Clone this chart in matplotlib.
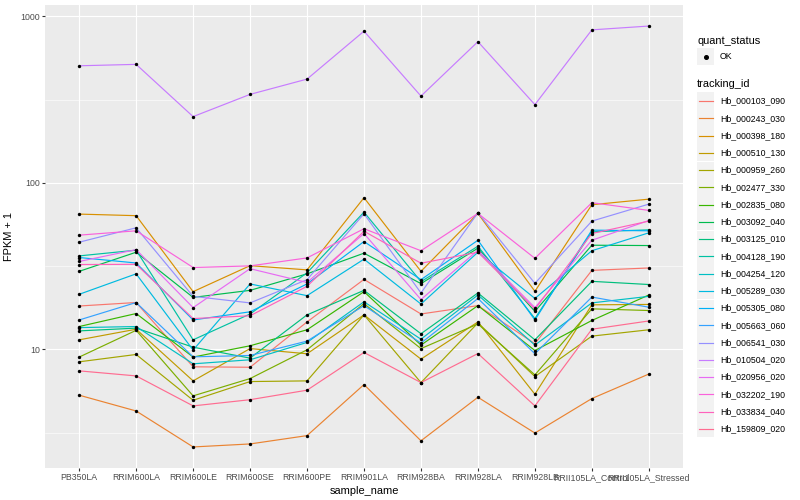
import matplotlib
matplotlib.use("Agg")
import matplotlib.pyplot as plt
import numpy as np
from matplotlib.lines import Line2D
from matplotlib.patches import Rectangle

plt.rcParams['font.family'] = ['Liberation Sans', 'DejaVu Sans']

samples = ["PB350LA", "RRIM600LA", "RRIM600LE", "RRIM600SE", "RRIM600PE",
           "RRIM901LA", "RRIM928BA", "RRIM928LA", "RRIM928LB",
           "RRII105LA_Control", "RRII105LA_Stressed"]

tracking_ids = ["Hb_000103_090", "Hb_000243_030", "Hb_000398_180", "Hb_000510_130",
                "Hb_000959_260", "Hb_002477_330", "Hb_002835_080", "Hb_003092_040",
                "Hb_003125_010", "Hb_004128_190", "Hb_004254_120", "Hb_005289_030",
                "Hb_005305_080", "Hb_005663_060", "Hb_006541_030", "Hb_010504_020",
                "Hb_020956_020", "Hb_032202_190", "Hb_033834_040", "Hb_159809_020"]

quant_status = ["OK"]

# FPKM + 1 values, one list per tracking id (in sample order)
hb_000103_090 = [18.2, 19.1, 7.85, 7.8, 14.6, 26.3, 16.3, 18.3, 10.8, 29.8, 30.8]
hb_000243_030 = [5.3, 4.26, 2.59, 2.70, 3.03, 6.14, 2.82, 5.15, 3.14, 5.06, 7.1]
hb_000398_180 = [64.9, 63.5, 22.2, 31.8, 30.0, 81.4, 29.4, 65.5, 22.3, 73.9, 79.8]
hb_000510_130 = [11.4, 13.2, 6.46, 10.1, 9.4, 16.1, 8.73, 14.6, 5.37, 18.5, 18.6]
hb_000959_260 = [8.41, 9.31, 4.94, 6.40, 6.46, 16.1, 6.31, 14.4, 6.86, 12.0, 13.1]
hb_002477_330 = [8.98, 13.0, 5.25, 6.67, 9.93, 18.8, 10.1, 14.2, 7.02, 17.5, 17.1]
hb_002835_080 = [13.7, 16.4, 8.98, 10.5, 13.1, 22.2, 10.6, 18.3, 9.83, 14.9, 21.2]
hb_003092_040 = [29.4, 38.3, 20.5, 22.6, 28.4, 37.8, 24.8, 40.5, 16.9, 42.2, 42.0]
hb_003125_010 = [12.9, 13.4, 10.3, 8.85, 16.1, 22.6, 12.4, 21.8, 11.4, 25.6, 24.5]
hb_004128_190 = [36.4, 39.4, 11.4, 16.3, 28.8, 66.7, 25.5, 41.6, 15.3, 50.8, 52.2]
hb_004254_120 = [13.5, 13.7, 8.18, 8.65, 11.0, 19.3, 11.5, 21.2, 10.6, 19.0, 20.8]
hb_005289_030 = [21.4, 28.4, 9.89, 24.7, 21.0, 34.8, 18.7, 38.3, 20.2, 39.1, 50.1]
hb_005305_080 = [35.6, 33.0, 15.0, 16.8, 24.7, 44.4, 26.2, 45.2, 15.0, 52.0, 51.5]
hb_005663_060 = [15.0, 19.1, 9.01, 9.18, 11.2, 18.3, 10.9, 20.2, 9.4, 20.6, 17.9]
hb_006541_030 = [44.0, 53.7, 20.8, 19.0, 26.2, 65.2, 21.8, 66.1, 24.9, 58.9, 74.5]
hb_010504_020 = [505, 515, 250, 340, 420, 815, 332, 705, 295, 830, 875]
hb_020956_020 = [33.7, 39.7, 17.8, 30.5, 25.2, 49.6, 19.9, 39.4, 17.8, 45.2, 59.4]
hb_032202_190 = [48.5, 51.5, 31.0, 31.7, 35.4, 53.0, 39.1, 65.5, 35.2, 76.0, 68.3]
hb_033834_040 = [32.3, 32.4, 15.3, 15.9, 23.9, 51.2, 32.9, 38.3, 17.4, 49.6, 58.9]
hb_159809_020 = [7.42, 6.92, 4.57, 4.98, 5.68, 9.57, 6.31, 9.43, 4.57, 13.2, 14.8]

series = [hb_000103_090, hb_000243_030, hb_000398_180, hb_000510_130, hb_000959_260,
          hb_002477_330, hb_002835_080, hb_003092_040, hb_003125_010, hb_004128_190,
          hb_004254_120, hb_005289_030, hb_005305_080, hb_005663_060, hb_006541_030,
          hb_010504_020, hb_020956_020, hb_032202_190, hb_033834_040, hb_159809_020]

colors = ["#F8766D", "#EA8331", "#D89000", "#C09B00", "#A3A500", "#7CAE00", "#39B600",
          "#00BB4E", "#00BF7D", "#00C1A3", "#00BFC4", "#00BAE0", "#00B0F6", "#35A2FF",
          "#9590FF", "#C77CFF", "#E76BF3", "#FA62DB", "#FF62BC", "#FF6C91"]

W, H = 800, 500
fig = plt.figure(figsize=(W / 100, H / 100), dpi=100)
px = lambda v: v / W
py = lambda v: 1 - v / H

left, right, top, bottom = 45, 683, 5, 468
ax = fig.add_axes([left / W, 1 - bottom / H, (right - left) / W, (bottom - top) / H])
ax.set_facecolor('#EBEBEB')
for s in ax.spines.values():
    s.set_visible(False)

x = np.arange(len(samples))
for vals, c in zip(series, colors):
    ax.plot(x, vals, color=c, lw=0.85, zorder=2, solid_capstyle='butt')
for vals in series:
    ax.scatter(x, vals, s=6, color='black', zorder=3, linewidths=0)

ax.set_yscale('log')
allv = np.concatenate([np.asarray(v, float) for v in series])
lo, hi = np.log10(allv.min()), np.log10(allv.max())
pad = 0.05 * (hi - lo)
ax.set_ylim(10 ** (lo - pad), 10 ** (hi + pad))
ax.set_xlim(-0.6, len(samples) - 1 + 0.6)

ax.set_yticks([10, 100, 1000])
ax.set_yticklabels(['10', '100', '1000'])
ax.set_yticks([10 ** 0.5, 10 ** 1.5, 10 ** 2.5], minor=True)
ax.set_xticks(x)
ax.set_xticklabels(samples)

ax.tick_params(axis='both', which='major', length=2.0, width=0.8, color='#333333',
               labelcolor='#4D4D4D', labelsize=6.3, pad=1.5)
ax.tick_params(axis='y', which='minor', length=0)
ax.grid(True, which='major', color='white', lw=0.85)
ax.grid(True, which='minor', axis='y', color='white', lw=0.4)
ax.set_axisbelow(True)

ax.set_xlabel('sample_name', fontsize=7.9, color='black', labelpad=3)
ax.set_ylabel('FPKM + 1', fontsize=7.9, color='black', labelpad=5)

# Legend (drawn in figure pixel coordinates)
lx = 697
tx = 720
fig.text(px(lx), py(40.7), 'quant_status', fontsize=7.9, va='center', ha='left')
fig.patches.append(Rectangle((px(lx), py(56.7 + 8.5)), px(17), 17 / H,
                             transform=fig.transFigure, facecolor='#F2F2F2', edgecolor='none'))
fig.lines.append(Line2D([px(lx + 8.5)], [py(56.7)], marker='o', markersize=2.6,
                        color='black', linestyle='none', transform=fig.transFigure))
fig.text(px(tx), py(56.7), quant_status[0], fontsize=6.3, va='center', ha='left')

fig.text(px(lx), py(84.3), 'tracking_id', fontsize=7.9, va='center', ha='left')
step = 17.26
for i, (tid, c) in enumerate(zip(tracking_ids, colors)):
    yc = 101 + i * step
    fig.patches.append(Rectangle((px(lx), py(yc + 8.5)), px(17), 17 / H,
                                 transform=fig.transFigure, facecolor='#F2F2F2',
                                 edgecolor='none'))
    fig.lines.append(Line2D([px(lx + 1.5), px(lx + 15.5)], [py(yc), py(yc)], color=c,
                            lw=0.85, transform=fig.transFigure))
    fig.text(px(tx), py(yc), tid, fontsize=6.3, va='center', ha='left')

fig.savefig('out.png', dpi=100, facecolor='white')
